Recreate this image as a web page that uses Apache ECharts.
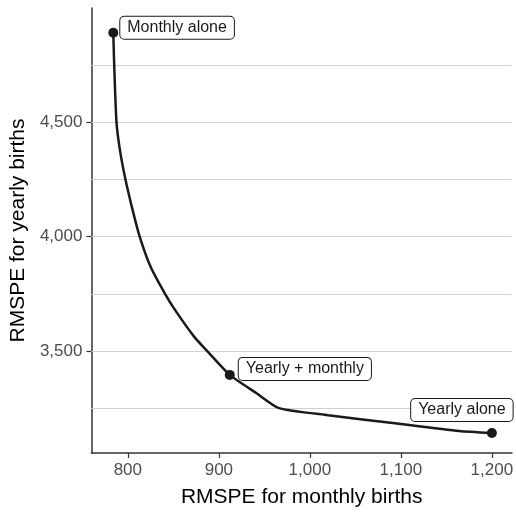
<!DOCTYPE html>
<html>
<head>
<meta charset="utf-8">
<script src="https://cdn.jsdelivr.net/npm/echarts@6/dist/echarts.min.js"></script>
<style>
  html, body { margin: 0; padding: 0; background: #fff; }
  #main { width: 516px; height: 520px; }
</style>
</head>
<body>
<div id="main"></div>
<script>
// frontier curve
var monthlyRmspe = [784, 785, 787.5, 791.5, 797.5, 805, 813, 825, 841, 852, 873, 887, 912, 941, 966, 1020, 1091, 1164, 1200];
var yearlyRmspe = [4890, 4750, 4500, 4373, 4247, 4120, 4000, 3868, 3749, 3679, 3562, 3501, 3396, 3317, 3251, 3220, 3186, 3151, 3142];

// labelled points
var pointNames = ['Monthly alone', 'Yearly + monthly', 'Yearly alone'];
var pointMonthly = [784, 912, 1200];
var pointYearly = [4890, 3396, 3142];

var xTicks = [800, 900, 1000, 1100, 1200];
var yTicks = [3500, 4000, 4500];
var yGrid = [3250, 3500, 3750, 4000, 4250, 4500, 4750];

var chart = echarts.init(document.getElementById('main'));

var curve = monthlyRmspe.map(function (m, i) { return [m, yearlyRmspe[i]]; });

// where each label box sits relative to its dot
var labelPlace = [
  { position: 'right', distance: 2, offset: [0, -5] },
  { position: 'right', distance: 4, offset: [0, -6] },
  { position: 'top', distance: 7, offset: [-30, 0] }
];

var points = pointNames.map(function (n, i) {
  return {
    name: n,
    value: [pointMonthly[i], pointYearly[i]],
    label: labelPlace[i]
  };
});

function fmt(v) { return Number(v).toLocaleString('en-US'); }

var font = 'Liberation Sans, Arial, Helvetica, sans-serif';

var option = {
  backgroundColor: '#fff',
  animation: false,
  textStyle: { fontFamily: font },
  grid: { left: 88, right: 3, top: 8, bottom: 67, containLabel: false },
  xAxis: {
    type: 'value',
    min: 760,
    max: 1222,
    name: 'RMSPE for monthly births',
    nameLocation: 'middle',
    nameGap: 34,
    nameTextStyle: { fontSize: 21, color: '#000', fontFamily: font },
    axisLine: { show: true, onZero: false, lineStyle: { color: '#333', width: 1.5 } },
    axisTick: { show: true, length: 5, customValues: xTicks, lineStyle: { color: '#333', width: 1.2 } },
    axisLabel: { customValues: xTicks, formatter: fmt, fontSize: 17, color: '#4d4d4d', margin: 9, fontFamily: font },
    splitLine: { show: false }
  },
  yAxis: {
    type: 'value',
    min: 3055,
    max: 4998,
    name: 'RMSPE for yearly births',
    nameLocation: 'middle',
    nameRotate: 90,
    nameGap: 59,
    nameTextStyle: { fontSize: 21, color: '#000', fontFamily: font },
    axisLine: { show: true, onZero: false, lineStyle: { color: '#333', width: 1.5 } },
    axisTick: { show: true, length: 5, customValues: yTicks, lineStyle: { color: '#333', width: 1.2 } },
    axisLabel: { customValues: yTicks, formatter: fmt, fontSize: 17, color: '#4d4d4d', margin: 9, fontFamily: font },
    splitLine: { show: false }
  },
  series: [
    {
      // horizontal grid lines only
      type: 'line',
      z: 1,
      data: curve,
      showSymbol: false,
      silent: true,
      lineStyle: { opacity: 0 },
      markLine: {
        z: 1,
        silent: true,
        symbol: ['none', 'none'],
        label: { show: false },
        lineStyle: { color: '#d0d0d0', type: 'solid', width: 1 },
        emphasis: { disabled: true },
        data: yGrid.map(function (v) { return { yAxis: v }; })
      }
    },
    {
      type: 'line',
      z: 3,
      data: curve,
      smooth: 0.2,
      showSymbol: false,
      lineStyle: { color: '#1a1a1a', width: 2.5 }
    },
    {
      type: 'scatter',
      z: 4,
      data: points,
      symbolSize: 10,
      itemStyle: { color: '#1a1a1a', opacity: 1 },
      label: {
        show: true,
        formatter: '{b}',
        fontSize: 16,
        lineHeight: 16,
        color: '#1a1a1a',
        fontFamily: font,
        backgroundColor: '#fff',
        borderColor: '#1a1a1a',
        borderWidth: 1,
        borderRadius: 4,
        padding: [3, 7, 3, 7]
      }
    }
  ]
};

chart.setOption(option);
</script>
</body>
</html>
